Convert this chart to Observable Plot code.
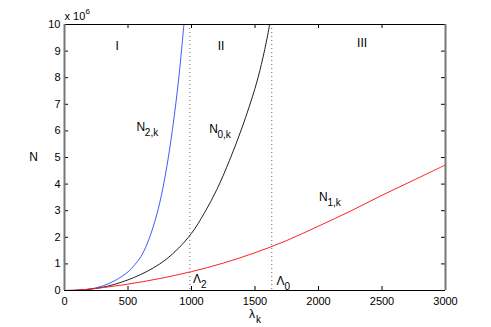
<!DOCTYPE html>
<html><head><meta charset="utf-8">
<script src="https://cdn.jsdelivr.net/npm/d3@7"></script>
<script src="https://cdn.jsdelivr.net/npm/@observablehq/plot@0.6"></script>
<style>body{margin:0;background:#fff} #chart{width:491px;height:327px}</style>
</head><body><div id="chart"></div>
<script>
// N_{2,k} (blue)
const lambdaN2 = [0, 100, 200, 300, 400, 500, 550, 600, 650, 700, 750, 800, 850, 900, 940];
const valuesN2 = [0, 0.007, 0.052, 0.17, 0.38, 0.70, 0.95, 1.26, 1.75, 2.42, 3.3, 4.5, 6.05, 8.0, 10];
// N_{0,k} (black)
const lambdaN0 = [0, 100, 200, 300, 400, 500, 600, 700, 800, 900, 1000, 1100, 1200, 1300, 1400, 1500, 1550, 1600, 1625];
const valuesN0 = [0, 0.01, 0.05, 0.12, 0.24, 0.40, 0.60, 0.85, 1.17, 1.60, 2.15, 2.9, 3.8, 4.9, 6.15, 7.6, 8.5, 9.6, 10.3];
// N_{1,k} (red)
const lambdaN1 = [0, 100, 250, 500, 750, 1000, 1250, 1500, 1750, 2000, 2250, 2500, 2750, 3000];
const valuesN1 = [0, 0.015, 0.08, 0.24, 0.45, 0.71, 1.03, 1.42, 1.88, 2.42, 2.98, 3.58, 4.15, 4.72];

// thresholds
const thresholdNames = ["2", "0"];
const thresholdValues = [987, 1632];

// ticks
const xTicks = [0, 500, 1000, 1500, 2000, 2500, 3000];
const yTicks = [0, 1, 2, 3, 4, 5, 6, 7, 8, 9, 10];

// region labels
const regionNames = ["I", "II", "III"];
const regionX = [415, 1232, 2343];
const regionY = [9.19, 9.19, 9.29];

// curve labels
const curveSubs = ["2,k", "0,k", "1,k"];
const curveLabelX = [601, 1173, 2039];
const curveLabelY = [6.14, 6.08, 3.52];

// threshold labels
const thrLabelX = [1043, 1701];
const thrLabelY = [0.41, 0.34];

const toRows = (xs, ys) => xs.map((x, i) => ({x, y: ys[i]}));
const n2 = toRows(lambdaN2, valuesN2);
const n0 = toRows(lambdaN0, valuesN0);
const n1 = toRows(lambdaN1, valuesN1);
const regions = regionNames.map((t, i) => ({t, x: regionX[i], y: regionY[i]}));
const curveLabels = curveSubs.map((s, i) => ({s, x: curveLabelX[i], y: curveLabelY[i]}));
const thrLabels = thresholdNames.map((s, i) => ({s, x: thrLabelX[i], y: thrLabelY[i]}));

const W = 491, H = 327, mL = 64, mR = 46, mT = 24, mB = 37;
const fw = W - mL - mR, fh = H - mT - mB, tl = 4;
const font = "'Liberation Sans', Arial, Helvetica, sans-serif";

const chart = Plot.plot({
  width: W, height: H,
  marginLeft: mL, marginRight: mR, marginTop: mT, marginBottom: mB,
  style: {fontFamily: font, fontSize: "11px", background: "#fff", color: "#000"},
  x: {domain: [0, 3000], label: null},
  y: {domain: [0, 10], label: null},
  marks: [
    Plot.ruleX(thresholdValues, {stroke: "#666", strokeDasharray: "1,3", strokeWidth: 1}),
    Plot.line(n2, {x: "x", y: "y", stroke: "#3d5cff", strokeWidth: 1, curve: "catmull-rom", clip: true}),
    Plot.line(n0, {x: "x", y: "y", stroke: "#222", strokeWidth: 1, curve: "catmull-rom", clip: true}),
    Plot.line(n1, {x: "x", y: "y", stroke: "#ff2020", strokeWidth: 1, curve: "catmull-rom", clip: true}),
    // inward tick marks
    Plot.tickX(xTicks, {x: d => d, insetTop: fh - tl, stroke: "#000"}),
    Plot.tickX(xTicks, {x: d => d, insetBottom: fh - tl, stroke: "#000"}),
    Plot.tickY(yTicks, {y: d => d, insetRight: fw - tl, stroke: "#000"}),
    Plot.tickY(yTicks, {y: d => d, insetLeft: fw - tl, stroke: "#000"}),
    // frame
    Plot.ruleY([0, 10], {stroke: "#000", strokeWidth: 1.2}),
    Plot.ruleX([0, 3000], {stroke: "#777", strokeWidth: 2}),
    Plot.axisX({ticks: xTicks, tickFormat: d => String(d), tickSize: 0, tickPadding: 7, fontSize: 11, label: null}),
    Plot.axisY({ticks: yTicks, tickFormat: d => String(d), tickSize: 0, tickPadding: 4, fontSize: 11, label: null}),
    // x 10^6
    Plot.text(["x 10"], {frameAnchor: "top-left", dx: 0, dy: -8, textAnchor: "start", lineAnchor: "middle", fontSize: 11}),
    Plot.text(["6"], {frameAnchor: "top-left", dx: 21, dy: -13, textAnchor: "start", lineAnchor: "middle", fontSize: 8}),
    // region labels
    Plot.text(regions, {x: "x", y: "y", text: "t", fontSize: 12, textAnchor: "middle", lineAnchor: "middle"}),
    // curve labels
    Plot.text(curveLabels, {x: "x", y: "y", text: () => "N", fontSize: 12, textAnchor: "middle", lineAnchor: "middle"}),
    Plot.text(curveLabels, {x: "x", y: "y", text: "s", fontSize: 10, textAnchor: "start", lineAnchor: "middle", dx: 4, dy: 6}),
    // threshold labels
    Plot.text(thrLabels, {x: "x", y: "y", text: () => "Λ", fontSize: 12, textAnchor: "middle", lineAnchor: "middle"}),
    Plot.text(thrLabels, {x: "x", y: "y", text: "s", fontSize: 10, textAnchor: "start", lineAnchor: "middle", dx: 4, dy: 5}),
    // axis labels
    Plot.text(["λ"], {frameAnchor: "bottom", dx: -3, dy: 24, textAnchor: "middle", lineAnchor: "middle", fontSize: 12}),
    Plot.text(["k"], {frameAnchor: "bottom", dx: 1, dy: 29, textAnchor: "start", lineAnchor: "middle", fontSize: 10}),
    Plot.text(["N"], {frameAnchor: "left", dx: -31, dy: 0, textAnchor: "middle", lineAnchor: "middle", fontSize: 12})
  ]
});
document.getElementById("chart").appendChild(chart);
</script>
</body></html>
